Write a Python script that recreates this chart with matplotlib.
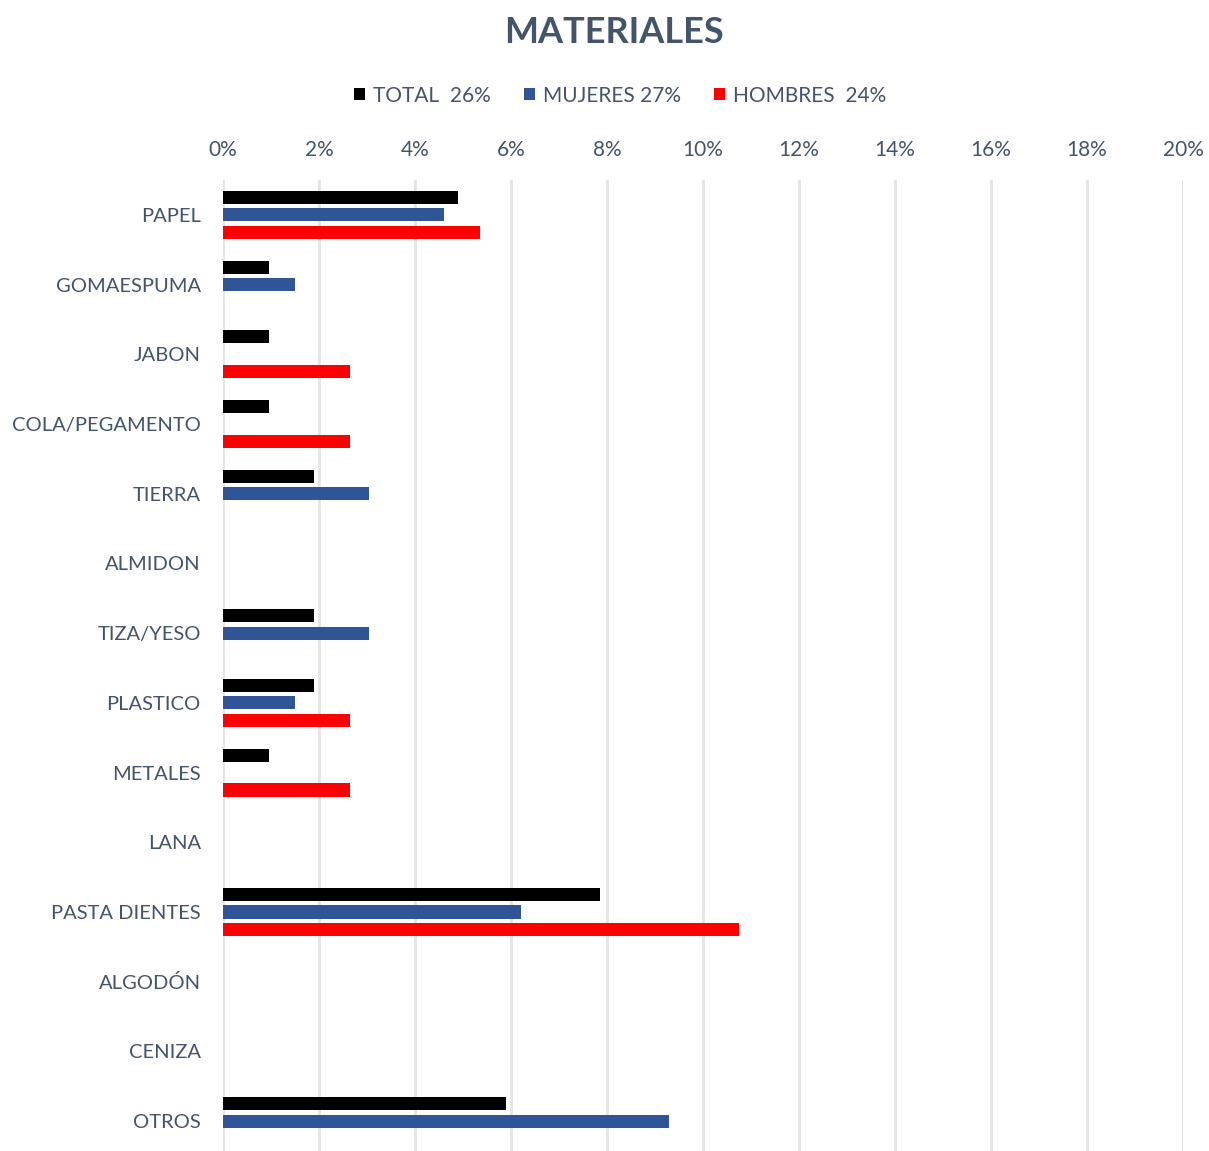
import matplotlib.pyplot as plt
import numpy as np

plt.rcParams['font.family'] = ['Lato', 'DejaVu Sans']

categorias = ['PAPEL', 'GOMAESPUMA', 'JABON', 'COLA/PEGAMENTO', 'TIERRA', 'ALMIDON',
              'TIZA/YESO', 'PLASTICO', 'METALES', 'LANA', 'PASTA DIENTES', 'ALGODÓN',
              'CENIZA', 'OTROS']
total = [4.9, 0.95, 0.95, 0.95, 1.9, 0, 1.9, 1.9, 0.95, 0, 7.85, 0, 0, 5.9]
mujeres = [4.6, 1.5, 0, 0, 3.05, 0, 3.05, 1.5, 0, 0, 6.2, 0, 0, 9.3]
hombres = [5.35, 0, 2.65, 2.65, 0, 0, 0, 2.65, 2.65, 0, 10.75, 0, 0, 0]
series_labels = ['TOTAL  26%', 'MUJERES 27%', 'HOMBRES  24%']
colores = ['#000000', '#2F5597', '#FF0000']
ticks = np.arange(0, 21, 2)

texto = '#44546A'

fig = plt.figure(figsize=(12.09, 11.51), dpi=100)
ax = fig.add_axes([223 / 1209, -5 / 1151, 960 / 1209, 976 / 1151])

y = np.arange(len(categorias))
alto = 0.19
for k, (vals, col, lab) in enumerate(zip([total, mujeres, hombres], colores, series_labels)):
    ax.barh(y + (k - 1) * 0.25, vals, height=alto, color=col, label=lab, zorder=3)

ax.set_xlim(0, 20)
ax.set_ylim(len(categorias) - 0.5, -0.5)
ax.set_yticks(y)
ax.set_yticklabels(categorias, fontsize=14.5, color=texto)
ax.set_xticks(ticks)
ax.set_xticklabels(['%d%%' % t for t in ticks], fontsize=15, color=texto)
ax.xaxis.tick_top()
ax.tick_params(axis='both', length=0)
ax.tick_params(axis='x', pad=14.5)
ax.tick_params(axis='y', pad=16)
ax.grid(axis='x', color='#E3E3E8', linewidth=2, zorder=0)
for s in ax.spines.values():
    s.set_visible(False)

fig.text(0.508, 0.972, 'MATERIALES', ha='center', va='center', fontsize=26,
         fontweight='bold', color=texto)
fig.legend(loc='center', bbox_to_anchor=(0.513, 0.917), ncol=3, frameon=False,
           fontsize=15, handlelength=0.5, handleheight=0.5, handletextpad=0.4,
           columnspacing=1.6, labelcolor=texto)

fig.savefig('out.png', dpi=100)
